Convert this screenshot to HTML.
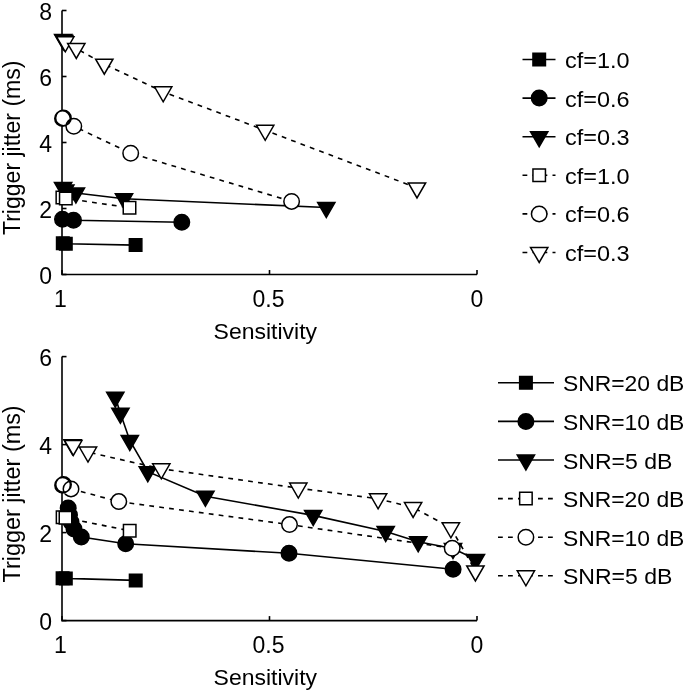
<!DOCTYPE html>
<html><head><meta charset="utf-8"><style>
html,body{margin:0;padding:0;background:#fff;}
svg{display:block;will-change:transform;}
text{font-family:"Liberation Sans",sans-serif;fill:#000;}
</style></head><body>
<svg width="685" height="690" viewBox="0 0 685 690">
<rect width="685" height="690" fill="#fff"/>
<path d="M62,10.50 L62,274.5 L477,274.5" fill="none" stroke="#000" stroke-width="1.6"/>
<path d="M62,274.50 L66.5,274.50" stroke="#000" stroke-width="1.6"/>
<text x="52" y="283.75" font-size="23" text-anchor="end">0</text>
<path d="M62,208.50 L66.5,208.50" stroke="#000" stroke-width="1.6"/>
<text x="52" y="217.75" font-size="23" text-anchor="end">2</text>
<path d="M62,142.50 L66.5,142.50" stroke="#000" stroke-width="1.6"/>
<text x="52" y="151.75" font-size="23" text-anchor="end">4</text>
<path d="M62,76.50 L66.5,76.50" stroke="#000" stroke-width="1.6"/>
<text x="52" y="85.75" font-size="23" text-anchor="end">6</text>
<path d="M62,10.50 L66.5,10.50" stroke="#000" stroke-width="1.6"/>
<text x="52" y="19.75" font-size="23" text-anchor="end">8</text>
<path d="M62.00,274.5 L62.00,270.0" stroke="#000" stroke-width="1.6"/>
<text x="60.50" y="307.0" font-size="23" text-anchor="middle">1</text>
<path d="M269.50,274.5 L269.50,270.0" stroke="#000" stroke-width="1.6"/>
<text x="268.50" y="307.0" font-size="23" text-anchor="middle">0.5</text>
<path d="M477.00,274.5 L477.00,270.0" stroke="#000" stroke-width="1.6"/>
<text x="477.00" y="307.0" font-size="23" text-anchor="middle">0</text>
<text x="265.3" y="338.9" font-size="22" text-anchor="middle" textLength="103.5" lengthAdjust="spacingAndGlyphs">Sensitivity</text>
<text x="19.8" y="147.8" font-size="23" text-anchor="middle" textLength="174.5" lengthAdjust="spacingAndGlyphs" transform="rotate(-90 19.8 147.8)">Trigger jitter (ms)</text>
<path d="M62.80,243.30 L65.80,243.80 L135.60,245.10" fill="none" stroke="#000" stroke-width="1.6"/>
<path d="M56.55,237.05 h12.5 v12.5 h-12.5 Z" fill="#000" stroke="none"/>
<path d="M56.55,237.05 h12.5 v12.5 h-12.5 Z" fill="none" stroke="#000" stroke-width="1.5" stroke-miterlimit="10"/>
<path d="M59.55,237.55 h12.5 v12.5 h-12.5 Z" fill="#000" stroke="none"/>
<path d="M59.55,237.55 h12.5 v12.5 h-12.5 Z" fill="none" stroke="#000" stroke-width="1.5" stroke-miterlimit="10"/>
<path d="M129.35,238.85 h12.5 v12.5 h-12.5 Z" fill="#000" stroke="none"/>
<path d="M129.35,238.85 h12.5 v12.5 h-12.5 Z" fill="none" stroke="#000" stroke-width="1.5" stroke-miterlimit="10"/>
<path d="M62.50,219.20 L73.50,220.30 L181.80,222.30" fill="none" stroke="#000" stroke-width="1.6"/>
<path d="M54.75,219.20 a7.75,7.75 0 1,0 15.5,0 a7.75,7.75 0 1,0 -15.5,0 Z M65.75,220.30 a7.75,7.75 0 1,0 15.5,0 a7.75,7.75 0 1,0 -15.5,0 Z M174.05,222.30 a7.75,7.75 0 1,0 15.5,0 a7.75,7.75 0 1,0 -15.5,0 Z" fill="#000" stroke="none"/>
<path d="M54.75,219.20 a7.75,7.75 0 1,0 15.5,0 a7.75,7.75 0 1,0 -15.5,0 Z M65.75,220.30 a7.75,7.75 0 1,0 15.5,0 a7.75,7.75 0 1,0 -15.5,0 Z M174.05,222.30 a7.75,7.75 0 1,0 15.5,0 a7.75,7.75 0 1,0 -15.5,0 Z" fill="none" stroke="#000" stroke-width="1.5" stroke-miterlimit="10"/>
<path d="M63.10,187.40 L65.30,190.10 L75.90,193.00 L124.00,198.70 L326.30,207.50" fill="none" stroke="#000" stroke-width="1.6"/>
<path d="M54.45,182.41 L71.75,182.41 L63.10,197.39 Z" fill="#000" stroke="none"/>
<path d="M54.45,182.41 L71.75,182.41 L63.10,197.39 Z" fill="none" stroke="#000" stroke-width="1.5" stroke-miterlimit="10"/>
<path d="M56.65,185.11 L73.95,185.11 L65.30,200.09 Z" fill="#000" stroke="none"/>
<path d="M56.65,185.11 L73.95,185.11 L65.30,200.09 Z" fill="none" stroke="#000" stroke-width="1.5" stroke-miterlimit="10"/>
<path d="M67.25,188.01 L84.55,188.01 L75.90,202.99 Z" fill="#000" stroke="none"/>
<path d="M67.25,188.01 L84.55,188.01 L75.90,202.99 Z" fill="none" stroke="#000" stroke-width="1.5" stroke-miterlimit="10"/>
<path d="M115.35,193.71 L132.65,193.71 L124.00,208.69 Z" fill="#000" stroke="none"/>
<path d="M115.35,193.71 L132.65,193.71 L124.00,208.69 Z" fill="none" stroke="#000" stroke-width="1.5" stroke-miterlimit="10"/>
<path d="M317.65,202.51 L334.95,202.51 L326.30,217.49 Z" fill="#000" stroke="none"/>
<path d="M317.65,202.51 L334.95,202.51 L326.30,217.49 Z" fill="none" stroke="#000" stroke-width="1.5" stroke-miterlimit="10"/>
<path d="M62.40,197.60 L65.80,198.40 L129.50,207.70" fill="none" stroke="#000" stroke-width="1.6" stroke-dasharray="4.8,5.2"/>
<path d="M56.15,191.35 h12.5 v12.5 h-12.5 Z" fill="#fff" stroke="none"/>
<path d="M56.15,191.35 h12.5 v12.5 h-12.5 Z" fill="none" stroke="#000" stroke-width="1.5" stroke-miterlimit="10"/>
<path d="M59.55,192.15 h12.5 v12.5 h-12.5 Z" fill="#fff" stroke="none"/>
<path d="M59.55,192.15 h12.5 v12.5 h-12.5 Z" fill="none" stroke="#000" stroke-width="1.5" stroke-miterlimit="10"/>
<path d="M123.25,201.45 h12.5 v12.5 h-12.5 Z" fill="#fff" stroke="none"/>
<path d="M123.25,201.45 h12.5 v12.5 h-12.5 Z" fill="none" stroke="#000" stroke-width="1.5" stroke-miterlimit="10"/>
<path d="M62.50,118.60 L63.40,117.90 L73.80,126.20 L130.70,153.20 L291.60,201.40" fill="none" stroke="#000" stroke-width="1.6" stroke-dasharray="4.8,5.2"/>
<path d="M54.75,118.60 a7.75,7.75 0 1,0 15.5,0 a7.75,7.75 0 1,0 -15.5,0 Z M55.65,117.90 a7.75,7.75 0 1,0 15.5,0 a7.75,7.75 0 1,0 -15.5,0 Z M66.05,126.20 a7.75,7.75 0 1,0 15.5,0 a7.75,7.75 0 1,0 -15.5,0 Z M122.95,153.20 a7.75,7.75 0 1,0 15.5,0 a7.75,7.75 0 1,0 -15.5,0 Z M283.85,201.40 a7.75,7.75 0 1,0 15.5,0 a7.75,7.75 0 1,0 -15.5,0 Z" fill="#fff" stroke="none"/>
<path d="M54.75,118.60 a7.75,7.75 0 1,0 15.5,0 a7.75,7.75 0 1,0 -15.5,0 Z M55.65,117.90 a7.75,7.75 0 1,0 15.5,0 a7.75,7.75 0 1,0 -15.5,0 Z M66.05,126.20 a7.75,7.75 0 1,0 15.5,0 a7.75,7.75 0 1,0 -15.5,0 Z M122.95,153.20 a7.75,7.75 0 1,0 15.5,0 a7.75,7.75 0 1,0 -15.5,0 Z M283.85,201.40 a7.75,7.75 0 1,0 15.5,0 a7.75,7.75 0 1,0 -15.5,0 Z" fill="none" stroke="#000" stroke-width="1.5" stroke-miterlimit="10"/>
<path d="M63.20,39.40 L64.20,40.60 L65.30,41.80 L76.30,48.50 L104.30,64.20 L163.20,91.80 L265.20,130.30 L417.00,187.90" fill="none" stroke="#000" stroke-width="1.6" stroke-dasharray="4.8,5.2"/>
<path d="M54.55,34.41 L71.85,34.41 L63.20,49.39 Z" fill="#fff" stroke="none"/>
<path d="M54.55,34.41 L71.85,34.41 L63.20,49.39 Z" fill="none" stroke="#000" stroke-width="1.5" stroke-miterlimit="10"/>
<path d="M55.55,35.61 L72.85,35.61 L64.20,50.59 Z" fill="#fff" stroke="none"/>
<path d="M55.55,35.61 L72.85,35.61 L64.20,50.59 Z" fill="none" stroke="#000" stroke-width="1.5" stroke-miterlimit="10"/>
<path d="M56.65,36.81 L73.95,36.81 L65.30,51.79 Z" fill="#fff" stroke="none"/>
<path d="M56.65,36.81 L73.95,36.81 L65.30,51.79 Z" fill="none" stroke="#000" stroke-width="1.5" stroke-miterlimit="10"/>
<path d="M67.65,43.51 L84.95,43.51 L76.30,58.49 Z" fill="#fff" stroke="none"/>
<path d="M67.65,43.51 L84.95,43.51 L76.30,58.49 Z" fill="none" stroke="#000" stroke-width="1.5" stroke-miterlimit="10"/>
<path d="M95.65,59.21 L112.95,59.21 L104.30,74.19 Z" fill="#fff" stroke="none"/>
<path d="M95.65,59.21 L112.95,59.21 L104.30,74.19 Z" fill="none" stroke="#000" stroke-width="1.5" stroke-miterlimit="10"/>
<path d="M154.55,86.81 L171.85,86.81 L163.20,101.79 Z" fill="#fff" stroke="none"/>
<path d="M154.55,86.81 L171.85,86.81 L163.20,101.79 Z" fill="none" stroke="#000" stroke-width="1.5" stroke-miterlimit="10"/>
<path d="M256.55,125.31 L273.85,125.31 L265.20,140.29 Z" fill="#fff" stroke="none"/>
<path d="M256.55,125.31 L273.85,125.31 L265.20,140.29 Z" fill="none" stroke="#000" stroke-width="1.5" stroke-miterlimit="10"/>
<path d="M408.35,182.91 L425.65,182.91 L417.00,197.89 Z" fill="#fff" stroke="none"/>
<path d="M408.35,182.91 L425.65,182.91 L417.00,197.89 Z" fill="none" stroke="#000" stroke-width="1.5" stroke-miterlimit="10"/>
<path d="M62,356.60 L62,620.6 L477,620.6" fill="none" stroke="#000" stroke-width="1.6"/>
<path d="M62,620.60 L66.5,620.60" stroke="#000" stroke-width="1.6"/>
<text x="52" y="629.85" font-size="23" text-anchor="end">0</text>
<path d="M62,532.60 L66.5,532.60" stroke="#000" stroke-width="1.6"/>
<text x="52" y="541.85" font-size="23" text-anchor="end">2</text>
<path d="M62,444.60 L66.5,444.60" stroke="#000" stroke-width="1.6"/>
<text x="52" y="453.85" font-size="23" text-anchor="end">4</text>
<path d="M62,356.60 L66.5,356.60" stroke="#000" stroke-width="1.6"/>
<text x="52" y="365.85" font-size="23" text-anchor="end">6</text>
<path d="M62.00,620.6 L62.00,616.1" stroke="#000" stroke-width="1.6"/>
<text x="60.50" y="653.1" font-size="23" text-anchor="middle">1</text>
<path d="M269.50,620.6 L269.50,616.1" stroke="#000" stroke-width="1.6"/>
<text x="268.50" y="653.1" font-size="23" text-anchor="middle">0.5</text>
<path d="M477.00,620.6 L477.00,616.1" stroke="#000" stroke-width="1.6"/>
<text x="477.00" y="653.1" font-size="23" text-anchor="middle">0</text>
<text x="265.3" y="684.9" font-size="22" text-anchor="middle" textLength="103.5" lengthAdjust="spacingAndGlyphs">Sensitivity</text>
<text x="19.8" y="493.90000000000003" font-size="23" text-anchor="middle" textLength="177.1" lengthAdjust="spacingAndGlyphs" transform="rotate(-90 19.8 493.90000000000003)">Trigger jitter (ms)</text>
<path d="M62.60,578.20 L65.80,578.40 L135.70,580.40" fill="none" stroke="#000" stroke-width="1.6"/>
<path d="M56.35,571.95 h12.5 v12.5 h-12.5 Z" fill="#000" stroke="none"/>
<path d="M56.35,571.95 h12.5 v12.5 h-12.5 Z" fill="none" stroke="#000" stroke-width="1.5" stroke-miterlimit="10"/>
<path d="M59.55,572.15 h12.5 v12.5 h-12.5 Z" fill="#000" stroke="none"/>
<path d="M59.55,572.15 h12.5 v12.5 h-12.5 Z" fill="none" stroke="#000" stroke-width="1.5" stroke-miterlimit="10"/>
<path d="M129.45,574.15 h12.5 v12.5 h-12.5 Z" fill="#000" stroke="none"/>
<path d="M129.45,574.15 h12.5 v12.5 h-12.5 Z" fill="none" stroke="#000" stroke-width="1.5" stroke-miterlimit="10"/>
<path d="M68.20,508.00 L69.50,515.00 L71.00,522.00 L74.00,529.00 L81.30,537.00 L125.70,543.70 L289.00,553.30 L453.10,569.20" fill="none" stroke="#000" stroke-width="1.6"/>
<path d="M60.45,508.00 a7.75,7.75 0 1,0 15.5,0 a7.75,7.75 0 1,0 -15.5,0 Z M61.75,515.00 a7.75,7.75 0 1,0 15.5,0 a7.75,7.75 0 1,0 -15.5,0 Z M63.25,522.00 a7.75,7.75 0 1,0 15.5,0 a7.75,7.75 0 1,0 -15.5,0 Z M66.25,529.00 a7.75,7.75 0 1,0 15.5,0 a7.75,7.75 0 1,0 -15.5,0 Z M73.55,537.00 a7.75,7.75 0 1,0 15.5,0 a7.75,7.75 0 1,0 -15.5,0 Z M117.95,543.70 a7.75,7.75 0 1,0 15.5,0 a7.75,7.75 0 1,0 -15.5,0 Z M281.25,553.30 a7.75,7.75 0 1,0 15.5,0 a7.75,7.75 0 1,0 -15.5,0 Z M445.35,569.20 a7.75,7.75 0 1,0 15.5,0 a7.75,7.75 0 1,0 -15.5,0 Z" fill="#000" stroke="none"/>
<path d="M60.45,508.00 a7.75,7.75 0 1,0 15.5,0 a7.75,7.75 0 1,0 -15.5,0 Z M61.75,515.00 a7.75,7.75 0 1,0 15.5,0 a7.75,7.75 0 1,0 -15.5,0 Z M63.25,522.00 a7.75,7.75 0 1,0 15.5,0 a7.75,7.75 0 1,0 -15.5,0 Z M66.25,529.00 a7.75,7.75 0 1,0 15.5,0 a7.75,7.75 0 1,0 -15.5,0 Z M73.55,537.00 a7.75,7.75 0 1,0 15.5,0 a7.75,7.75 0 1,0 -15.5,0 Z M117.95,543.70 a7.75,7.75 0 1,0 15.5,0 a7.75,7.75 0 1,0 -15.5,0 Z M281.25,553.30 a7.75,7.75 0 1,0 15.5,0 a7.75,7.75 0 1,0 -15.5,0 Z M445.35,569.20 a7.75,7.75 0 1,0 15.5,0 a7.75,7.75 0 1,0 -15.5,0 Z" fill="none" stroke="#000" stroke-width="1.5" stroke-miterlimit="10"/>
<path d="M115.30,397.30 L120.40,413.30 L129.80,440.50 L147.80,471.70 L205.40,496.20 L313.20,515.40 L385.70,531.50 L418.20,541.70 L453.00,548.50 L475.90,559.50" fill="none" stroke="#000" stroke-width="1.6"/>
<path d="M106.65,392.31 L123.95,392.31 L115.30,407.29 Z" fill="#000" stroke="none"/>
<path d="M106.65,392.31 L123.95,392.31 L115.30,407.29 Z" fill="none" stroke="#000" stroke-width="1.5" stroke-miterlimit="10"/>
<path d="M111.75,408.31 L129.05,408.31 L120.40,423.29 Z" fill="#000" stroke="none"/>
<path d="M111.75,408.31 L129.05,408.31 L120.40,423.29 Z" fill="none" stroke="#000" stroke-width="1.5" stroke-miterlimit="10"/>
<path d="M121.15,435.51 L138.45,435.51 L129.80,450.49 Z" fill="#000" stroke="none"/>
<path d="M121.15,435.51 L138.45,435.51 L129.80,450.49 Z" fill="none" stroke="#000" stroke-width="1.5" stroke-miterlimit="10"/>
<path d="M139.15,466.71 L156.45,466.71 L147.80,481.69 Z" fill="#000" stroke="none"/>
<path d="M139.15,466.71 L156.45,466.71 L147.80,481.69 Z" fill="none" stroke="#000" stroke-width="1.5" stroke-miterlimit="10"/>
<path d="M196.75,491.21 L214.05,491.21 L205.40,506.19 Z" fill="#000" stroke="none"/>
<path d="M196.75,491.21 L214.05,491.21 L205.40,506.19 Z" fill="none" stroke="#000" stroke-width="1.5" stroke-miterlimit="10"/>
<path d="M304.55,510.41 L321.85,510.41 L313.20,525.39 Z" fill="#000" stroke="none"/>
<path d="M304.55,510.41 L321.85,510.41 L313.20,525.39 Z" fill="none" stroke="#000" stroke-width="1.5" stroke-miterlimit="10"/>
<path d="M377.05,526.51 L394.35,526.51 L385.70,541.49 Z" fill="#000" stroke="none"/>
<path d="M377.05,526.51 L394.35,526.51 L385.70,541.49 Z" fill="none" stroke="#000" stroke-width="1.5" stroke-miterlimit="10"/>
<path d="M409.55,536.71 L426.85,536.71 L418.20,551.69 Z" fill="#000" stroke="none"/>
<path d="M409.55,536.71 L426.85,536.71 L418.20,551.69 Z" fill="none" stroke="#000" stroke-width="1.5" stroke-miterlimit="10"/>
<path d="M444.35,543.51 L461.65,543.51 L453.00,558.49 Z" fill="#000" stroke="none"/>
<path d="M444.35,543.51 L461.65,543.51 L453.00,558.49 Z" fill="none" stroke="#000" stroke-width="1.5" stroke-miterlimit="10"/>
<path d="M467.25,554.51 L484.55,554.51 L475.90,569.49 Z" fill="#000" stroke="none"/>
<path d="M467.25,554.51 L484.55,554.51 L475.90,569.49 Z" fill="none" stroke="#000" stroke-width="1.5" stroke-miterlimit="10"/>
<path d="M62.60,517.20 L65.50,517.80 L129.70,530.80" fill="none" stroke="#000" stroke-width="1.6" stroke-dasharray="4.8,5.2"/>
<path d="M56.35,510.95 h12.5 v12.5 h-12.5 Z" fill="#fff" stroke="none"/>
<path d="M56.35,510.95 h12.5 v12.5 h-12.5 Z" fill="none" stroke="#000" stroke-width="1.5" stroke-miterlimit="10"/>
<path d="M59.25,511.55 h12.5 v12.5 h-12.5 Z" fill="#fff" stroke="none"/>
<path d="M59.25,511.55 h12.5 v12.5 h-12.5 Z" fill="none" stroke="#000" stroke-width="1.5" stroke-miterlimit="10"/>
<path d="M123.45,524.55 h12.5 v12.5 h-12.5 Z" fill="#fff" stroke="none"/>
<path d="M123.45,524.55 h12.5 v12.5 h-12.5 Z" fill="none" stroke="#000" stroke-width="1.5" stroke-miterlimit="10"/>
<path d="M62.60,485.30 L63.50,484.60 L71.00,488.90 L118.80,501.60 L289.50,524.60 L452.20,548.20" fill="none" stroke="#000" stroke-width="1.6" stroke-dasharray="4.8,5.2"/>
<path d="M54.85,485.30 a7.75,7.75 0 1,0 15.5,0 a7.75,7.75 0 1,0 -15.5,0 Z M55.75,484.60 a7.75,7.75 0 1,0 15.5,0 a7.75,7.75 0 1,0 -15.5,0 Z M63.25,488.90 a7.75,7.75 0 1,0 15.5,0 a7.75,7.75 0 1,0 -15.5,0 Z M111.05,501.60 a7.75,7.75 0 1,0 15.5,0 a7.75,7.75 0 1,0 -15.5,0 Z M281.75,524.60 a7.75,7.75 0 1,0 15.5,0 a7.75,7.75 0 1,0 -15.5,0 Z M444.45,548.20 a7.75,7.75 0 1,0 15.5,0 a7.75,7.75 0 1,0 -15.5,0 Z" fill="#fff" stroke="none"/>
<path d="M54.85,485.30 a7.75,7.75 0 1,0 15.5,0 a7.75,7.75 0 1,0 -15.5,0 Z M55.75,484.60 a7.75,7.75 0 1,0 15.5,0 a7.75,7.75 0 1,0 -15.5,0 Z M63.25,488.90 a7.75,7.75 0 1,0 15.5,0 a7.75,7.75 0 1,0 -15.5,0 Z M111.05,501.60 a7.75,7.75 0 1,0 15.5,0 a7.75,7.75 0 1,0 -15.5,0 Z M281.75,524.60 a7.75,7.75 0 1,0 15.5,0 a7.75,7.75 0 1,0 -15.5,0 Z M444.45,548.20 a7.75,7.75 0 1,0 15.5,0 a7.75,7.75 0 1,0 -15.5,0 Z" fill="none" stroke="#000" stroke-width="1.5" stroke-miterlimit="10"/>
<path d="M72.50,444.80 L73.30,445.50 L88.00,452.10 L161.30,468.80 L298.30,488.10 L378.10,498.80 L413.10,507.50 L450.90,527.80 L475.40,570.90" fill="none" stroke="#000" stroke-width="1.6" stroke-dasharray="4.8,5.2"/>
<path d="M63.85,439.81 L81.15,439.81 L72.50,454.79 Z" fill="#fff" stroke="none"/>
<path d="M63.85,439.81 L81.15,439.81 L72.50,454.79 Z" fill="none" stroke="#000" stroke-width="1.5" stroke-miterlimit="10"/>
<path d="M64.65,440.51 L81.95,440.51 L73.30,455.49 Z" fill="#fff" stroke="none"/>
<path d="M64.65,440.51 L81.95,440.51 L73.30,455.49 Z" fill="none" stroke="#000" stroke-width="1.5" stroke-miterlimit="10"/>
<path d="M79.35,447.11 L96.65,447.11 L88.00,462.09 Z" fill="#fff" stroke="none"/>
<path d="M79.35,447.11 L96.65,447.11 L88.00,462.09 Z" fill="none" stroke="#000" stroke-width="1.5" stroke-miterlimit="10"/>
<path d="M152.65,463.81 L169.95,463.81 L161.30,478.79 Z" fill="#fff" stroke="none"/>
<path d="M152.65,463.81 L169.95,463.81 L161.30,478.79 Z" fill="none" stroke="#000" stroke-width="1.5" stroke-miterlimit="10"/>
<path d="M289.65,483.11 L306.95,483.11 L298.30,498.09 Z" fill="#fff" stroke="none"/>
<path d="M289.65,483.11 L306.95,483.11 L298.30,498.09 Z" fill="none" stroke="#000" stroke-width="1.5" stroke-miterlimit="10"/>
<path d="M369.45,493.81 L386.75,493.81 L378.10,508.79 Z" fill="#fff" stroke="none"/>
<path d="M369.45,493.81 L386.75,493.81 L378.10,508.79 Z" fill="none" stroke="#000" stroke-width="1.5" stroke-miterlimit="10"/>
<path d="M404.45,502.51 L421.75,502.51 L413.10,517.49 Z" fill="#fff" stroke="none"/>
<path d="M404.45,502.51 L421.75,502.51 L413.10,517.49 Z" fill="none" stroke="#000" stroke-width="1.5" stroke-miterlimit="10"/>
<path d="M442.25,522.81 L459.55,522.81 L450.90,537.79 Z" fill="#fff" stroke="none"/>
<path d="M442.25,522.81 L459.55,522.81 L450.90,537.79 Z" fill="none" stroke="#000" stroke-width="1.5" stroke-miterlimit="10"/>
<path d="M466.75,565.91 L484.05,565.91 L475.40,580.89 Z" fill="#fff" stroke="none"/>
<path d="M466.75,565.91 L484.05,565.91 L475.40,580.89 Z" fill="none" stroke="#000" stroke-width="1.5" stroke-miterlimit="10"/>
<path d="M522.5,59.5 L555.5,59.5" stroke="#000" stroke-width="1.6"/>
<path d="M532.95,53.25 h12.5 v12.5 h-12.5 Z" fill="#000" stroke="none"/>
<path d="M532.95,53.25 h12.5 v12.5 h-12.5 Z" fill="none" stroke="#000" stroke-width="1.5" stroke-miterlimit="10"/>
<text x="565" y="68.0" font-size="22.5" text-anchor="start" textLength="64.5" lengthAdjust="spacingAndGlyphs">cf=1.0</text>
<path d="M522.5,98.1 L555.5,98.1" stroke="#000" stroke-width="1.6"/>
<path d="M531.45,98.10 a7.75,7.75 0 1,0 15.5,0 a7.75,7.75 0 1,0 -15.5,0 Z" fill="#000" stroke="none"/>
<path d="M531.45,98.10 a7.75,7.75 0 1,0 15.5,0 a7.75,7.75 0 1,0 -15.5,0 Z" fill="none" stroke="#000" stroke-width="1.5" stroke-miterlimit="10"/>
<text x="565" y="106.6" font-size="22.5" text-anchor="start" textLength="64.5" lengthAdjust="spacingAndGlyphs">cf=0.6</text>
<path d="M522.5,136.7 L555.5,136.7" stroke="#000" stroke-width="1.6"/>
<path d="M530.55,131.71 L547.85,131.71 L539.20,146.69 Z" fill="#000" stroke="none"/>
<path d="M530.55,131.71 L547.85,131.71 L539.20,146.69 Z" fill="none" stroke="#000" stroke-width="1.5" stroke-miterlimit="10"/>
<text x="565" y="145.2" font-size="22.5" text-anchor="start" textLength="64.5" lengthAdjust="spacingAndGlyphs">cf=0.3</text>
<path d="M522.5,175.3 L555.5,175.3" stroke="#000" stroke-width="1.6" stroke-dasharray="4.8,5.2"/>
<path d="M532.95,169.05 h12.5 v12.5 h-12.5 Z" fill="#fff" stroke="none"/>
<path d="M532.95,169.05 h12.5 v12.5 h-12.5 Z" fill="none" stroke="#000" stroke-width="1.5" stroke-miterlimit="10"/>
<text x="565" y="183.8" font-size="22.5" text-anchor="start" textLength="64.5" lengthAdjust="spacingAndGlyphs">cf=1.0</text>
<path d="M522.5,213.9 L555.5,213.9" stroke="#000" stroke-width="1.6" stroke-dasharray="4.8,5.2"/>
<path d="M531.45,213.90 a7.75,7.75 0 1,0 15.5,0 a7.75,7.75 0 1,0 -15.5,0 Z" fill="#fff" stroke="none"/>
<path d="M531.45,213.90 a7.75,7.75 0 1,0 15.5,0 a7.75,7.75 0 1,0 -15.5,0 Z" fill="none" stroke="#000" stroke-width="1.5" stroke-miterlimit="10"/>
<text x="565" y="222.4" font-size="22.5" text-anchor="start" textLength="64.5" lengthAdjust="spacingAndGlyphs">cf=0.6</text>
<path d="M522.5,252.5 L555.5,252.5" stroke="#000" stroke-width="1.6" stroke-dasharray="4.8,5.2"/>
<path d="M530.55,247.51 L547.85,247.51 L539.20,262.49 Z" fill="#fff" stroke="none"/>
<path d="M530.55,247.51 L547.85,247.51 L539.20,262.49 Z" fill="none" stroke="#000" stroke-width="1.5" stroke-miterlimit="10"/>
<text x="565" y="261.0" font-size="22.5" text-anchor="start" textLength="64.5" lengthAdjust="spacingAndGlyphs">cf=0.3</text>
<path d="M498,382.8 L554,382.8" stroke="#000" stroke-width="1.6"/>
<path d="M519.65,376.55 h12.5 v12.5 h-12.5 Z" fill="#000" stroke="none"/>
<path d="M519.65,376.55 h12.5 v12.5 h-12.5 Z" fill="none" stroke="#000" stroke-width="1.5" stroke-miterlimit="10"/>
<text x="562.9" y="391.3" font-size="22.5" text-anchor="start" textLength="121.5" lengthAdjust="spacingAndGlyphs">SNR=20 dB</text>
<path d="M498,421.40000000000003 L554,421.40000000000003" stroke="#000" stroke-width="1.6"/>
<path d="M518.15,421.40 a7.75,7.75 0 1,0 15.5,0 a7.75,7.75 0 1,0 -15.5,0 Z" fill="#000" stroke="none"/>
<path d="M518.15,421.40 a7.75,7.75 0 1,0 15.5,0 a7.75,7.75 0 1,0 -15.5,0 Z" fill="none" stroke="#000" stroke-width="1.5" stroke-miterlimit="10"/>
<text x="562.9" y="429.90000000000003" font-size="22.5" text-anchor="start" textLength="121.5" lengthAdjust="spacingAndGlyphs">SNR=10 dB</text>
<path d="M498,460.0 L554,460.0" stroke="#000" stroke-width="1.6"/>
<path d="M517.25,455.01 L534.55,455.01 L525.90,469.99 Z" fill="#000" stroke="none"/>
<path d="M517.25,455.01 L534.55,455.01 L525.90,469.99 Z" fill="none" stroke="#000" stroke-width="1.5" stroke-miterlimit="10"/>
<text x="562.9" y="468.5" font-size="22.5" text-anchor="start" textLength="109.5" lengthAdjust="spacingAndGlyphs">SNR=5 dB</text>
<path d="M498,498.6 L554,498.6" stroke="#000" stroke-width="1.6" stroke-dasharray="4.8,5.2"/>
<path d="M519.65,492.35 h12.5 v12.5 h-12.5 Z" fill="#fff" stroke="none"/>
<path d="M519.65,492.35 h12.5 v12.5 h-12.5 Z" fill="none" stroke="#000" stroke-width="1.5" stroke-miterlimit="10"/>
<text x="562.9" y="507.1" font-size="22.5" text-anchor="start" textLength="121.5" lengthAdjust="spacingAndGlyphs">SNR=20 dB</text>
<path d="M498,537.2 L554,537.2" stroke="#000" stroke-width="1.6" stroke-dasharray="4.8,5.2"/>
<path d="M518.15,537.20 a7.75,7.75 0 1,0 15.5,0 a7.75,7.75 0 1,0 -15.5,0 Z" fill="#fff" stroke="none"/>
<path d="M518.15,537.20 a7.75,7.75 0 1,0 15.5,0 a7.75,7.75 0 1,0 -15.5,0 Z" fill="none" stroke="#000" stroke-width="1.5" stroke-miterlimit="10"/>
<text x="562.9" y="545.7" font-size="22.5" text-anchor="start" textLength="121.5" lengthAdjust="spacingAndGlyphs">SNR=10 dB</text>
<path d="M498,575.8 L554,575.8" stroke="#000" stroke-width="1.6" stroke-dasharray="4.8,5.2"/>
<path d="M517.25,570.81 L534.55,570.81 L525.90,585.79 Z" fill="#fff" stroke="none"/>
<path d="M517.25,570.81 L534.55,570.81 L525.90,585.79 Z" fill="none" stroke="#000" stroke-width="1.5" stroke-miterlimit="10"/>
<text x="562.9" y="584.3" font-size="22.5" text-anchor="start" textLength="109.5" lengthAdjust="spacingAndGlyphs">SNR=5 dB</text>
</svg>
</body></html>
